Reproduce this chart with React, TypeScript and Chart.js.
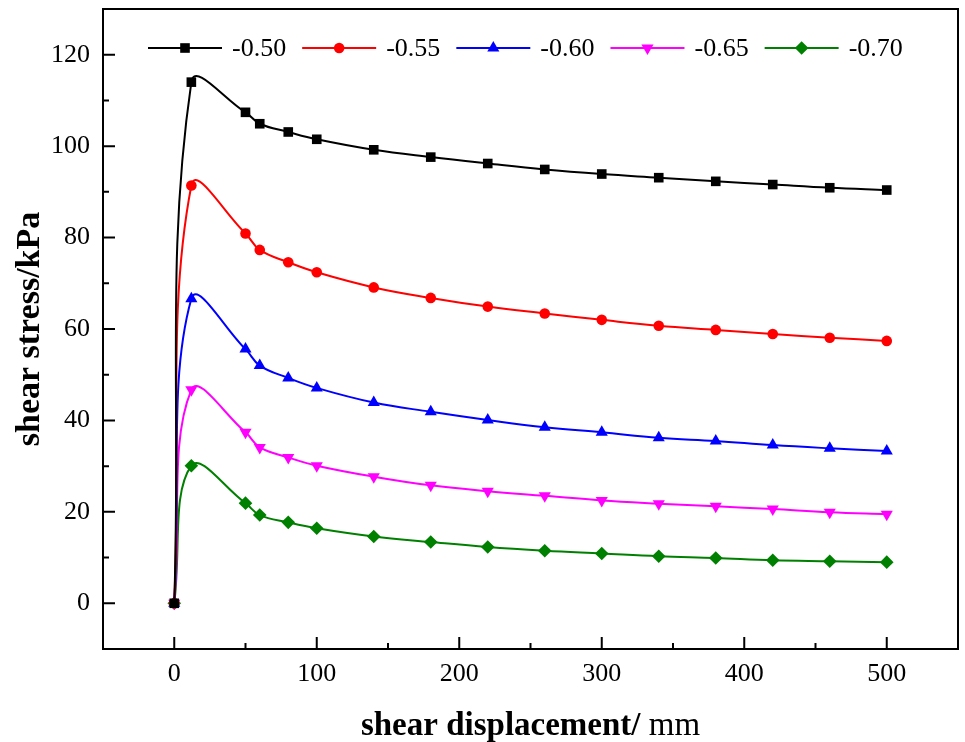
import React, { useEffect, useRef } from "react";
import { Chart, registerables } from "chart.js";

Chart.register(...registerables);

// ---- data ----
const displacement = [0, 12, 50, 60, 80, 100, 140, 180, 220, 260, 300, 340, 380, 420, 460, 500];
const seriesLabels = ["-0.50", "-0.55", "-0.60", "-0.65", "-0.70"];
const stress050 = [0, 114.0, 107.4, 104.9, 103.1, 101.5, 99.2, 97.6, 96.2, 94.9, 93.9, 93.1, 92.3, 91.6, 90.9, 90.4];
const stress055 = [0, 91.4, 80.9, 77.3, 74.6, 72.4, 69.1, 66.8, 64.9, 63.4, 62.0, 60.7, 59.8, 58.9, 58.1, 57.4];
const stress060 = [0, 66.6, 55.6, 52.0, 49.3, 47.1, 43.9, 41.9, 40.1, 38.5, 37.4, 36.2, 35.5, 34.6, 33.9, 33.3];
const stress065 = [0, 46.7, 37.4, 34.1, 31.9, 30.1, 27.7, 25.8, 24.5, 23.5, 22.5, 21.8, 21.2, 20.6, 19.9, 19.5];
const stress070 = [0, 30.1, 21.9, 19.3, 17.7, 16.4, 14.6, 13.4, 12.3, 11.5, 10.9, 10.3, 9.9, 9.4, 9.2, 9.0];
const seriesValues = [stress050, stress055, stress060, stress065, stress070];

const xMajorTicks = [0, 100, 200, 300, 400, 500];
const xMinorTicks = [50, 150, 250, 350, 450];
const yMajorTicks = [0, 20, 40, 60, 80, 100, 120];
const yMinorTicks = [10, 30, 50, 70, 90, 110];

const xTitleBold = "shear displacement/";
const xTitleRegular = " mm";
const yTitle = "shear stress/kPa";

// ---- styles ----
const seriesColors = ["#000000", "#ff0000", "#0000ff", "#ff00ff", "#008000"];
const pointStyles = ["rect", "circle", "triangle", "triangle", "rectRot"];
const pointRotations = [0, 0, 0, 180, 0];
const pointRadii = [6.8, 5.3, 7, 7, 6.8];
const SERIF = "'Liberation Serif', 'Times New Roman', serif";

function drawMarker(ctx: CanvasRenderingContext2D, style: string, rot: number, x: number, y: number, r: number) {
  ctx.beginPath();
  if (style === "rect") {
    const s = r * Math.SQRT1_2;
    ctx.rect(x - s, y - s, 2 * s, 2 * s);
  } else if (style === "circle") {
    ctx.arc(x, y, r, 0, Math.PI * 2);
  } else if (style === "triangle") {
    const base = (rot * Math.PI) / 180;
    for (let i = 0; i < 3; i++) {
      const a = base + (i * 2 * Math.PI) / 3;
      const px = x + Math.sin(a) * r;
      const py = y - Math.cos(a) * r;
      if (i === 0) ctx.moveTo(px, py);
      else ctx.lineTo(px, py);
    }
    ctx.closePath();
  } else if (style === "rectRot") {
    ctx.moveTo(x, y - r);
    ctx.lineTo(x + r, y);
    ctx.lineTo(x, y + r);
    ctx.lineTo(x - r, y);
    ctx.closePath();
  }
  ctx.fill();
}

const framePlugin = {
  id: "frameAndDecor",
  afterDraw(chart: any) {
    const { ctx, chartArea: a } = chart;
    const x = chart.scales.x;
    const y = chart.scales.y;
    ctx.save();
    ctx.strokeStyle = "#000";
    ctx.lineWidth = 2;
    ctx.strokeRect(a.left, a.top, a.right - a.left, a.bottom - a.top);
    ctx.beginPath();
    xMajorTicks.forEach((v) => {
      const p = x.getPixelForValue(v);
      ctx.moveTo(p, a.bottom);
      ctx.lineTo(p, a.bottom - 12);
    });
    xMinorTicks.forEach((v) => {
      const p = x.getPixelForValue(v);
      ctx.moveTo(p, a.bottom);
      ctx.lineTo(p, a.bottom - 6);
    });
    yMajorTicks.forEach((v) => {
      const p = y.getPixelForValue(v);
      ctx.moveTo(a.left, p);
      ctx.lineTo(a.left + 12, p);
    });
    yMinorTicks.forEach((v) => {
      const p = y.getPixelForValue(v);
      ctx.moveTo(a.left, p);
      ctx.lineTo(a.left + 6, p);
    });
    ctx.stroke();

    // legend
    ctx.font = `26px ${SERIF}`;
    ctx.textBaseline = "middle";
    ctx.textAlign = "left";
    let lx = 148;
    const ly = 48;
    seriesLabels.forEach((label, i) => {
      ctx.strokeStyle = seriesColors[i];
      ctx.fillStyle = seriesColors[i];
      ctx.lineWidth = 2;
      ctx.beginPath();
      ctx.moveTo(lx, ly);
      ctx.lineTo(lx + 74, ly);
      ctx.stroke();
      drawMarker(ctx, pointStyles[i], pointRotations[i], lx + 37, ly, pointRadii[i]);
      ctx.fillStyle = "#000";
      ctx.fillText(label, lx + 84, ly + 1);
      lx += 84 + ctx.measureText(label).width + 16;
    });

    // x title (mixed bold / regular)
    ctx.fillStyle = "#000";
    ctx.textBaseline = "alphabetic";
    ctx.font = `bold 33px ${SERIF}`;
    const wb = ctx.measureText(xTitleBold).width;
    ctx.font = `33px ${SERIF}`;
    const wr = ctx.measureText(xTitleRegular).width;
    const cx = (a.left + a.right) / 2;
    const sx = cx - (wb + wr) / 2;
    ctx.font = `bold 33px ${SERIF}`;
    ctx.fillText(xTitleBold, sx, 735);
    ctx.font = `33px ${SERIF}`;
    ctx.fillText(xTitleRegular, sx + wb, 735);

    // y title
    ctx.save();
    ctx.translate(30, (a.top + a.bottom) / 2);
    ctx.rotate(-Math.PI / 2);
    ctx.font = `bold 34px ${SERIF}`;
    ctx.textAlign = "center";
    ctx.textBaseline = "middle";
    ctx.fillText(yTitle, 0, 0);
    ctx.restore();

    ctx.restore();
  },
};

export default function App() {
  const canvasRef = useRef<HTMLCanvasElement | null>(null);

  useEffect(() => {
    const canvas = canvasRef.current;
    if (!canvas) return;
    const chart = new Chart(canvas, {
      type: "line",
      data: {
        datasets: seriesLabels.map((label, i) => ({
          label,
          data: displacement.map((d, j) => ({ x: d, y: seriesValues[i][j] })),
          borderColor: seriesColors[i],
          backgroundColor: seriesColors[i],
          borderWidth: 2,
          tension: 0.4,
          pointStyle: pointStyles[i] as any,
          pointRotation: pointRotations[i],
          pointRadius: pointRadii[i],
          pointBorderWidth: 0,
          fill: false,
        })),
      },
      options: {
        responsive: false,
        animation: false,
        layout: { padding: { top: 9, right: 3, left: 0, bottom: 0 } },
        plugins: {
          legend: { display: false },
          tooltip: { enabled: false },
        },
        scales: {
          x: {
            type: "linear",
            min: -50,
            max: 550,
            grid: { display: false, drawTicks: false },
            border: { display: false },
            ticks: {
              font: { family: SERIF, size: 26 },
              color: "#000",
              padding: 10,
              maxRotation: 0,
            },
            afterBuildTicks: (s: any) => {
              s.ticks = xMajorTicks.map((v) => ({ value: v }));
            },
            afterFit: (s: any) => {
              s.height = 93;
              s.paddingLeft = 0;
              s.paddingRight = 0;
            },
          },
          y: {
            type: "linear",
            min: -10,
            max: 130,
            grid: { display: false, drawTicks: false },
            border: { display: false },
            ticks: {
              font: { family: SERIF, size: 26 },
              color: "#000",
              padding: 13,
            },
            afterBuildTicks: (s: any) => {
              s.ticks = yMajorTicks.map((v) => ({ value: v }));
            },
            afterFit: (s: any) => {
              s.width = 103;
              s.paddingTop = 0;
              s.paddingBottom = 0;
            },
          },
        },
      },
      plugins: [framePlugin],
    });
    return () => chart.destroy();
  }, []);

  return (
    <div style={{ position: "absolute", left: 0, top: 0, width: 965, height: 742, background: "#fff" }}>
      <canvas ref={canvasRef} width={965} height={742} />
    </div>
  );
}
